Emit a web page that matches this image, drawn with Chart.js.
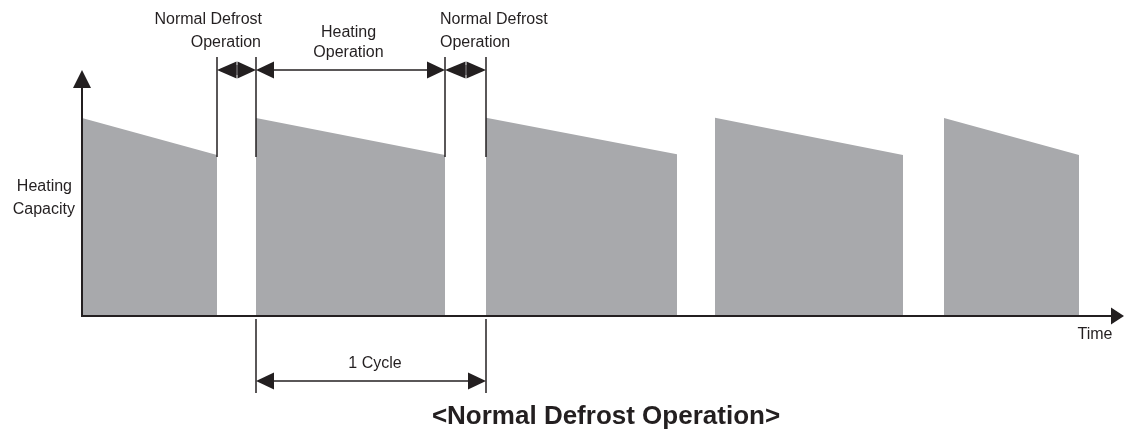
<!DOCTYPE html>
<html>
<head>
<meta charset="utf-8">
<script src="https://cdn.jsdelivr.net/npm/chart.js@4"></script>
<style>
html,body{margin:0;padding:0;background:#fff;}
</style>
</head>
<body>
<canvas id="mycanvas" width="1126" height="429"></canvas>
<script>
// time (x) runs 0..104.2, heating capacity (y) runs 0..100, arbitrary units
var segStart = [0, 17.4, 40.4, 63.3, 86.2];
var segEnd = [13.5, 36.3, 59.5, 82.1, 99.7];
var capStart = [80.5, 80.5, 80.6, 80.6, 80.5];
var capEnd = [65.4, 65.4, 65.8, 65.4, 65.4];
var yLabel = ['Heating', 'Capacity'];
var xLabel = 'Time';
var defrostLabel = ['Normal Defrost', 'Operation'];
var heatingLabel = ['Heating', 'Operation'];
var cycleLabel = '1 Cycle';
var chartTitle = '<Normal Defrost Operation>';

var GRAY = '#a8a9ac';
var INK = '#231f20';
var FONT = '16px "Liberation Sans", Arial, sans-serif';

var datasets = [];
for (var i in segStart) {
	datasets.push({
		data: [{x: segStart[i], y: capStart[i]}, {x: segEnd[i], y: capEnd[i]}],
		fill: 'origin',
		backgroundColor: GRAY,
		borderWidth: 0,
		pointRadius: 0,
		tension: 0
	});
}

function tri(ctx, x, y, dir, len, half) {
	ctx.beginPath();
	ctx.moveTo(x, y);
	if (dir == 'l') { ctx.lineTo(x + len, y - half); ctx.lineTo(x + len, y + half); }
	if (dir == 'r') { ctx.lineTo(x - len, y - half); ctx.lineTo(x - len, y + half); }
	if (dir == 'u') { ctx.lineTo(x - half, y + len); ctx.lineTo(x + half, y + len); }
	ctx.closePath();
	ctx.fill();
}

function line(ctx, x1, y1, x2, y2, w) {
	ctx.lineWidth = w;
	ctx.beginPath();
	ctx.moveTo(x1, y1);
	ctx.lineTo(x2, y2);
	ctx.stroke();
}

// arrow with heads at both ends, tips on x1 and x2
function span(ctx, x1, x2, y) {
	line(ctx, x1 + 4, y, x2 - 4, y, 1.5);
	tri(ctx, x1, y, 'l', 18, 8.5);
	tri(ctx, x2, y, 'r', 18, 8.5);
}

// short gap: two heads back to back with a thin tick between
function gap(ctx, x1, x2, y) {
	var mid = Math.round((x1 + x2) / 2);
	tri(ctx, x1, y, 'l', mid - x1 - 0.5, 8.5);
	tri(ctx, x2, y, 'r', x2 - mid - 0.5, 8.5);
	line(ctx, mid, y - 5, mid, y + 5, 1);
}

var drawing = {
	id: 'drawing',
	afterDatasetsDraw: function(chart) {
		var ctx = chart.ctx;
		var xs = chart.scales.x, a = chart.chartArea;
		var px = function(v) { return xs.getPixelForValue(v); };
		ctx.save();
		ctx.fillStyle = INK;
		ctx.strokeStyle = INK;

		// axes with arrow heads
		line(ctx, a.left, a.bottom, a.left, a.top + 14, 2);
		tri(ctx, a.left, a.top, 'u', 18, 9);
		line(ctx, a.left - 1, a.bottom, a.right - 12, a.bottom, 2);
		tri(ctx, a.right, a.bottom, 'r', 13, 8.5);

		// markers around the first full heating period
		var d1 = px(segEnd[0]), h1 = px(segStart[1]), h2 = px(segEnd[1]), d2 = px(segStart[2]);
		[d1, h1, h2, d2].forEach(function(x) { line(ctx, x, 57, x, 157, 1.5); });
		gap(ctx, d1, h1, 70);
		span(ctx, h1, h2, 70);
		gap(ctx, h2, d2, 70);

		// one cycle
		line(ctx, h1, 319, h1, 393, 1.5);
		line(ctx, d2, 319, d2, 393, 1.5);
		span(ctx, h1, d2, 381);

		// texts
		ctx.font = FONT;
		ctx.textBaseline = 'middle';
		ctx.textAlign = 'right';
		ctx.fillText(defrostLabel[0], h1 + 6, 20);
		ctx.fillText(defrostLabel[1], h1 + 5, 43);
		ctx.fillText(yLabel[0], 72, 187);
		ctx.fillText(yLabel[1], 75, 210);
		ctx.textAlign = 'left';
		ctx.fillText(defrostLabel[0], h2 - 5, 20);
		ctx.fillText(defrostLabel[1], h2 - 5, 43);
		ctx.textAlign = 'center';
		ctx.fillText(heatingLabel[0], (h1 + h2) / 2 - 2, 33);
		ctx.fillText(heatingLabel[1], (h1 + h2) / 2 - 2, 53);
		ctx.fillText(cycleLabel, (h1 + d2) / 2 + 4, 364);
		ctx.fillText(xLabel, 1095, 335);
		ctx.font = 'bold 26px "Liberation Sans", Arial, sans-serif';
		ctx.fillText(chartTitle, 606, 417);
		ctx.restore();
	}
};

var ctx = document.getElementById('mycanvas');
var chart = new Chart(ctx, {
	type: 'line',
	data: {datasets: datasets},
	options: {
		responsive: false,
		animation: false,
		layout: {padding: {left: 82, right: 2, top: 70, bottom: 113}},
		scales: {
			x: {type: 'linear', min: 0, max: 104.2, display: false},
			y: {min: 0, max: 100, display: false}
		},
		plugins: {legend: {display: false}, tooltip: {enabled: false}}
	},
	plugins: [drawing]
});
</script>
</body>
</html>
